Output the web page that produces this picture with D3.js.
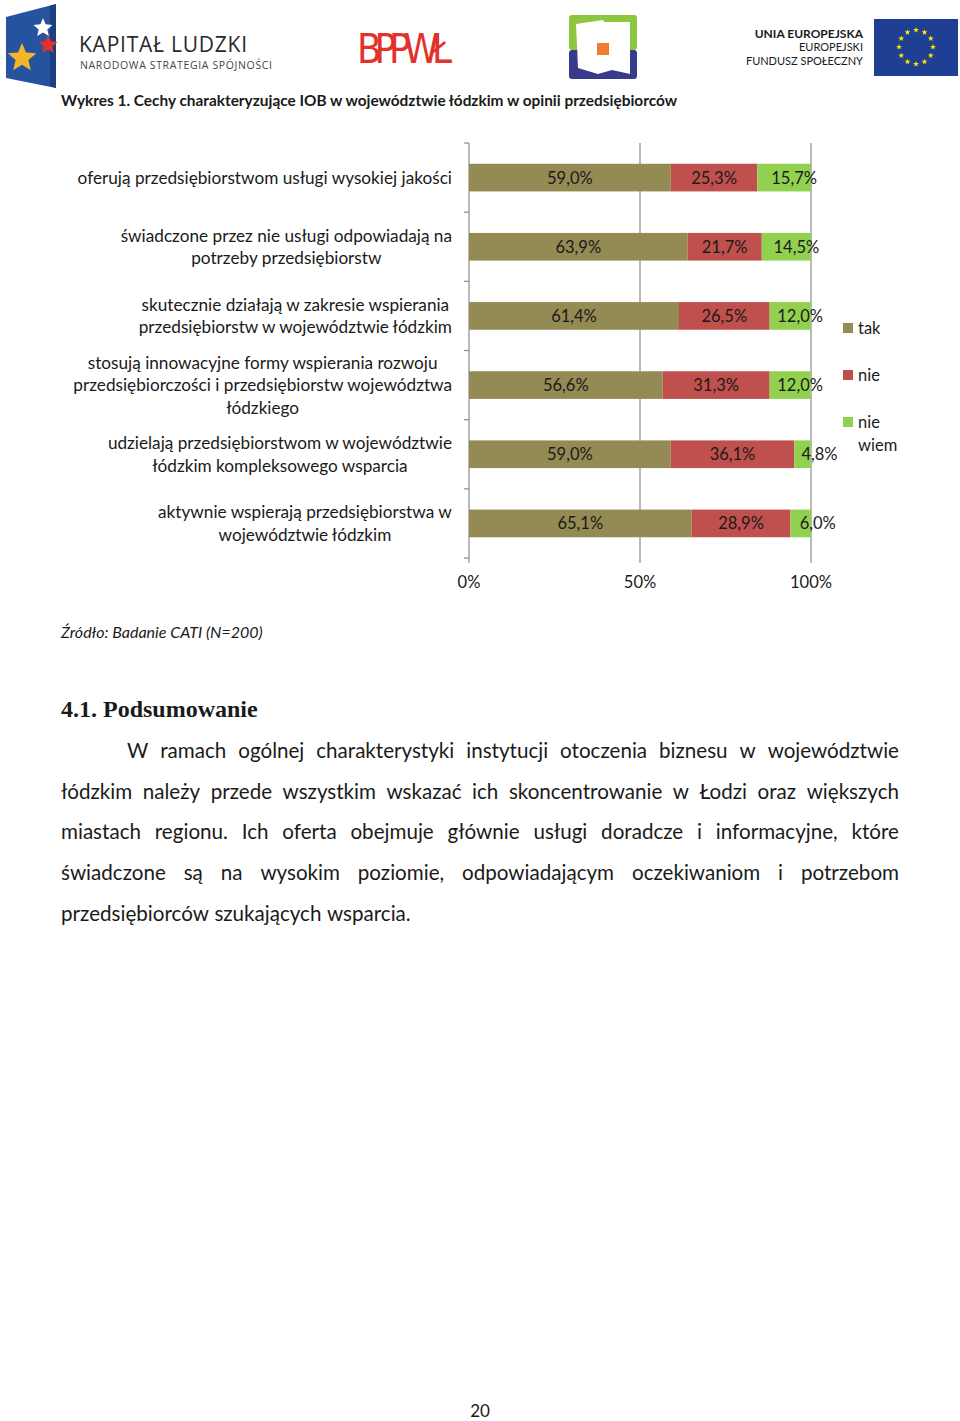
<!DOCTYPE html>
<html><head><meta charset="utf-8">
<script src="https://cdn.jsdelivr.net/npm/d3@7"></script>
<style>
body{margin:0;background:#fff;}
svg{display:block;}
text{font-family:Lato,"Open Sans",sans-serif;fill:#1a1a1a;}
</style></head>
<body>
<script>
// ---- data ----
const categories = [
  ["oferują przedsiębiorstwom usługi wysokiej jakości"],
  ["świadczone przez nie usługi odpowiadają na","potrzeby przedsiębiorstw"],
  ["skutecznie działają w zakresie wspierania","przedsiębiorstw w województwie łódzkim"],
  ["stosują innowacyjne formy wspierania rozwoju","przedsiębiorczości i przedsiębiorstw województwa","łódzkiego"],
  ["udzielają przedsiębiorstwom w województwie","łódzkim kompleksowego wsparcia"],
  ["aktywnie wspierają przedsiębiorstwa w","województwie łódzkim"]
];
const seriesNames = ["tak","nie","nie wiem"];
const tak     = [59.0, 63.9, 61.4, 56.6, 59.0, 65.1];
const nie     = [25.3, 21.7, 26.5, 31.3, 36.1, 28.9];
const nieWiem = [15.7, 14.5, 12.0, 12.0, 4.8, 6.0];
const xTicks = [0, 50, 100];
const colors = ["#948A54","#C0504D","#92D050"];
const paragraphLines = [
  "W ramach ogólnej charakterystyki instytucji otoczenia biznesu w województwie",
  "łódzkim należy przede wszystkim wskazać ich skoncentrowanie w Łodzi oraz większych",
  "miastach regionu. Ich oferta obejmuje głównie usługi doradcze i informacyjne, które",
  "świadczone są na wysokim poziomie, odpowiadającym oczekiwaniom i potrzebom",
  "przedsiębiorców szukających wsparcia."
];

const W = 960, H = 1421;
const svg = d3.select("body").append("svg").attr("width", W).attr("height", H);

// ---- header logos ----
const hdr = svg.append("g");
hdr.append("path").attr("d","M6,17 L56,4 L56,88 L6,78 Z").attr("fill","#2553a0");
hdr.append("path").attr("d","M56,4 L50,6 L50,86 L56,88Z").attr("fill","#1b3f80");
function star(cx, cy, r, fill, g){
  const pts=[];
  for(let i=0;i<10;i++){const a=-Math.PI/2+i*Math.PI/5; const rr=i%2?r*0.45:r; pts.push([cx+rr*Math.cos(a),cy+rr*Math.sin(a)]);}
  (g||hdr).append("path").attr("d","M"+pts.map(p=>p.join(",")).join("L")+"Z").attr("fill",fill);
}
star(43,28,10,"#ffffff");
star(48,45,10,"#e2322b");
star(22,58,15,"#f3b52a");
hdr.append("text").attr("x",79).attr("y",52).attr("font-size",21).attr("textLength",168).style("font-family","'Open Sans',sans-serif").style("fill","#2a2a2a").text("KAPITAŁ LUDZKI");
hdr.append("text").attr("x",80).attr("y",69).attr("font-size",10.5).attr("textLength",192).style("font-family","'Open Sans',sans-serif").style("fill","#444").text("NARODOWA STRATEGIA SPÓJNOŚCI");
hdr.append("text").attr("x",357).attr("y",63).attr("font-size",40).style("font-family","'Liberation Sans Narrow','DejaVu Sans Condensed',sans-serif").style("fill","#e2322b").attr("textLength",95).text("BPPWŁ");
hdr.append("rect").attr("x",569).attr("y",15).attr("width",68).attr("height",35).attr("rx",3).attr("fill","#8dc63f");
hdr.append("rect").attr("x",569).attr("y",50).attr("width",68).attr("height",29).attr("rx",3).attr("fill","#3a3a8c");
hdr.append("path").attr("d","M576,24 L603,20 L604,22 L630,22 L630,74 L612,70 L598,74 L578,68 Z").attr("fill","#fff");
hdr.append("rect").attr("x",597).attr("y",43).attr("width",12).attr("height",12).attr("fill","#ee7d31");
hdr.append("text").attr("x",863).attr("y",38).attr("text-anchor","end").attr("font-size",12).attr("font-weight","bold").text("UNIA EUROPEJSKA");
hdr.append("text").attr("x",863).attr("y",51).attr("text-anchor","end").attr("font-size",11).text("EUROPEJSKI");
hdr.append("text").attr("x",863).attr("y",65).attr("text-anchor","end").attr("font-size",11).text("FUNDUSZ SPOŁECZNY");
hdr.append("rect").attr("x",874).attr("y",19).attr("width",84).attr("height",57).attr("fill","#1f3f95");
for(let i=0;i<12;i++){const a=i*Math.PI/6; star(916+17*Math.cos(a),47+17*Math.sin(a),3,"#ffe000");}

// ---- title ----
svg.append("text").attr("x",61).attr("y",106).attr("font-size",15.4).attr("font-weight","bold")
  .text("Wykres 1. Cechy charakteryzujące IOB w województwie łódzkim w opinii przedsiębiorców");

// ---- chart ----
const x = d3.scaleLinear().domain([0,100]).range([469,811]);
const y = d3.scaleBand().domain(d3.range(categories.length)).range([143,558]).paddingInner(0.6).paddingOuter(0.3);
const yb = d3.scaleBand().domain(d3.range(categories.length)).range([143,558]);

const chart = svg.append("g");
chart.append("g").selectAll("line").data(xTicks.slice(1)).join("line")
  .attr("x1",d=>x(d)).attr("x2",d=>x(d)).attr("y1",143).attr("y2",563)
  .attr("stroke","#8c8c8c").attr("stroke-width",1.2);
chart.append("line").attr("x1",x(0)).attr("x2",x(0)).attr("y1",143).attr("y2",563).attr("stroke","#8c8c8c").attr("stroke-width",1.2);
chart.append("g").selectAll("line").data(d3.range(categories.length+1)).join("line")
  .attr("x1",x(0)-5).attr("x2",x(0)).attr("y1",i=>143+i*yb.step()).attr("y2",i=>143+i*yb.step())
  .attr("stroke","#8c8c8c").attr("stroke-width",1.2);

const series = [tak, nie, nieWiem];
const stacked = categories.map((c,i)=>{let acc=0; return series.map((s,k)=>{const r={i,k,v:s[i],x0:acc,x1:acc+s[i]}; acc+=s[i]; return r;});}).flat();

chart.append("g").selectAll("rect").data(stacked).join("rect")
  .attr("x",d=>x(d.x0)).attr("width",d=>x(Math.min(d.x1,100))-x(d.x0))
  .attr("y",d=>y(d.i)).attr("height",y.bandwidth())
  .attr("fill",d=>colors[d.k]);

const fmt = v => v.toFixed(1).replace(".",",")+"%";
chart.append("g").selectAll("text").data(stacked).join("text")
  .attr("x",d=>(x(d.x0)+x(Math.min(d.x1,100)))/2 + (d.k===2?(d.v<10?17:10):0))
  .attr("y",d=>y(d.i)+y.bandwidth()/2+6)
  .attr("text-anchor","middle").attr("font-size",16.5)
  .text(d=>fmt(d.v));

categories.forEach((lines,i)=>{
  const cy = yb(i)+yb.bandwidth()/2;
  const lh = 22.5;
  const t = chart.append("text").attr("text-anchor","middle").attr("font-size",17.2);
  lines.forEach((ln,j)=>{
    t.append("tspan").attr("x",0).attr("y",cy + (j-(lines.length-1)/2)*lh + 6).text(ln);
  });
  const bb = t.node().getBBox();
  t.attr("transform",`translate(${452 - bb.width/2},0)`);
});

chart.append("g").selectAll("text").data(xTicks).join("text")
  .attr("x",d=>x(d)).attr("y",588).attr("text-anchor","middle").attr("font-size",16.5)
  .text(d=>d+"%");

const lg = chart.append("g");
const legendY = [328, 375, 422];
seriesNames.forEach((n,k)=>{
  lg.append("rect").attr("x",843).attr("y",legendY[k]-5).attr("width",10).attr("height",10).attr("fill",colors[k]);
  const words = n.split(" ");
  words.forEach((w,j)=>lg.append("text").attr("x",858).attr("y",legendY[k]+6+j*23).attr("font-size",16.5).text(w));
});

svg.append("text").attr("x",61).attr("y",638).attr("font-size",16).attr("font-style","italic").text("Źródło: Badanie CATI (N=200)");

svg.append("text").attr("x",61).attr("y",717).attr("font-size",24).attr("font-weight","bold")
  .style("font-family","'Liberation Serif',serif").text("4.1. Podsumowanie");

const left = 61, right = 899, lineY = [758, 799, 839, 880, 921];
paragraphLines.forEach((ln,li)=>{
  const startX = li===0 ? 127 : left;
  const words = ln.split(" ");
  const g = svg.append("g");
  const nodes = words.map(w=>g.append("text").attr("y",lineY[li]).attr("font-size",20.6).text(w));
  const widths = nodes.map(n=>n.node().getComputedTextLength());
  const total = d3.sum(widths);
  const last = li===paragraphLines.length-1;
  const gap = last ? 5.5 : (right-startX-total)/(words.length-1);
  let cx = startX;
  nodes.forEach((n,k)=>{n.attr("x",cx); cx += widths[k]+gap;});
});

svg.append("text").attr("x",480).attr("y",1417).attr("text-anchor","middle").attr("font-size",17).text("20");
</script>
</body></html>
